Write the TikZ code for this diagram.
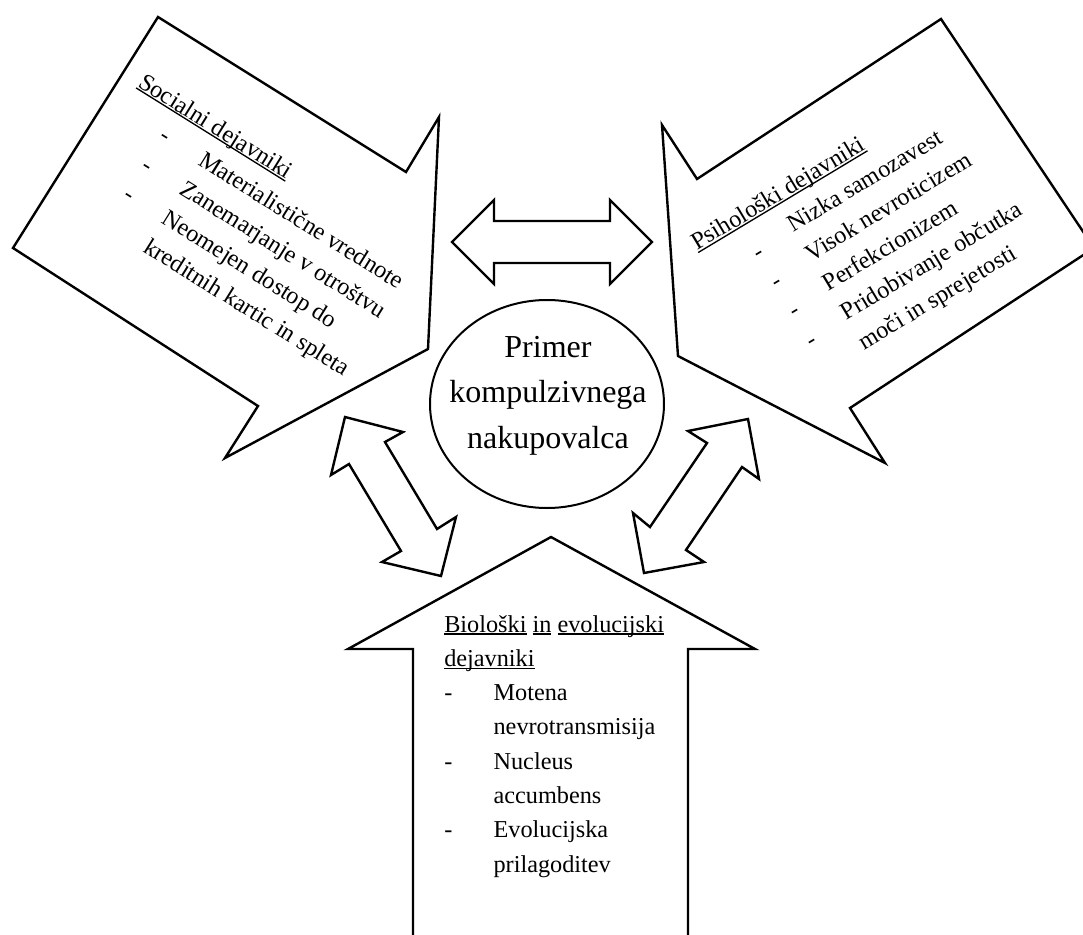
\documentclass[tikz,border=0pt]{standalone}
\usepackage{fontspec}
\setmainfont{Liberation Serif}
\usetikzlibrary{shapes.geometric}
\newcommand{\ulw}[1]{\setbox0=\hbox{#1}\rlap{\rule[-0.11em]{\wd0}{0.055em}}\box0\relax}
\begin{document}
\begin{tikzpicture}[x=0.75pt,y=-0.75pt,
    factor/.style={fill=white, draw=black, line width=1.8pt, line join=miter},
    twoway/.style={fill=white, draw=black, line width=1.8pt, line join=miter},
    hub/.style={ellipse, draw=black, line width=1.5pt, minimum width=175.5pt, minimum height=156pt, inner sep=0pt},
    hubtext/.style={align=center, inner sep=0pt, font=\fontsize{24pt}{34.1pt}\selectfont},
    listtext/.style={align=left, inner sep=0pt, anchor=base west, font=\fontsize{18.2pt}{25.7pt}\selectfont}]
    \useasboundingbox (0,0) rectangle (1083,935);
    \clip (0,0) rectangle (1083,935);
    \filldraw[factor] (158,17) -- (406,172) -- (439,117) -- (428,349) -- (225,458) -- (258,406) -- (13,248) -- cycle;
    \filldraw[factor] (662,125) -- (697,179) -- (941,19) -- (1094,248) -- (850,408) -- (885,463) -- (678,356) -- cycle;
    \filldraw[factor] (551,537) -- (755,649) -- (688,649) -- (688,960) -- (413,960) -- (413,649) -- (348,649) -- cycle;
    \filldraw[twoway] (452,242) -- (494,200) -- (494,221) -- (610,221) -- (610,200) -- (652,242) -- (610,284) -- (610,263) -- (494,263) -- (494,284) -- cycle;
    \filldraw[twoway] (345,417) -- (403,432) -- (385,442) -- (437,529) -- (456,517) -- (441,576) -- (382,562) -- (401,551) -- (349,464) -- (331,475) -- cycle;
    \filldraw[twoway] (748,419) -- (759,479) -- (742,467) -- (686,550) -- (704,562) -- (644,573) -- (633,513) -- (650,527) -- (707,443) -- (688,431) -- cycle;
    \node[hub] (buyer) at (547,404) {};
    \node[hubtext] (buyertext) at (548,395.5) {Primer\\kompulzivnega\\nakupovalca};
    \node[listtext, rotate=-32] (social) at (64.3,202.3) {\ulw{Socialni dejavniki}\\
      \hspace*{35pt}\makebox[34pt][l]{-}Materialistične vrednote\\
      \hspace*{35pt}\makebox[34pt][l]{-}Zanemarjanje v otroštvu\\
      \hspace*{35pt}\makebox[34pt][l]{-}Neomejen dostop do\\
      \hspace*{69pt}kreditnih kartic in spleta};
    \node[listtext, rotate=31] (psych) at (785.2,397.8) {\ulw{Psihološki dejavniki}\\
      \hspace*{36pt}\makebox[33pt][l]{\raisebox{-4pt}{-}}Nizka samozavest\\
      \hspace*{36pt}\makebox[33pt][l]{\raisebox{-4pt}{-}}Visok nevroticizem\\
      \hspace*{36pt}\makebox[33pt][l]{\raisebox{-4pt}{-}}Perfekcionizem\\
      \hspace*{36pt}\makebox[33pt][l]{\raisebox{-4pt}{-}}Pridobivanje občutka\\
      \hspace*{69pt}moči in sprejetosti};
    \node[listtext] (bio) at (444,872) {\ulw{Biološki} \ulw{in} \ulw{evolucijski}\\
      \ulw{dejavniki}\\
      \makebox[37pt][l]{-}Motena\\
      \hspace*{37pt}nevrotransmisija\\
      \makebox[37pt][l]{-}Nucleus\\
      \hspace*{37pt}accumbens\\
      \makebox[37pt][l]{-}Evolucijska\\
      \hspace*{37pt}prilagoditev};
\end{tikzpicture}
\end{document}
